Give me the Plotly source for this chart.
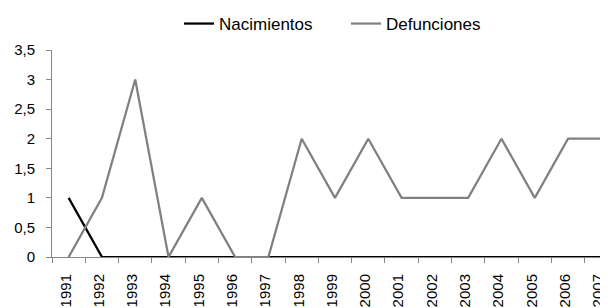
import plotly.graph_objects as go

years = [str(y) for y in range(1991, 2008)]
nacimientos = [1, 0, 0, 0, 0, 0, 0, 0, 0, 0, 0, 0, 0, 0, 0, 0, 0]
defunciones = [0, 1, 3, 0, 1, 0, 0, 2, 1, 2, 1, 1, 1, 2, 1, 2, 2]
y_ticks = [0, 0.5, 1, 1.5, 2, 2.5, 3, 3.5]

fig = go.Figure()
fig.add_trace(go.Scatter(x=years, y=nacimientos, mode="lines", name="Nacimientos",
                         line=dict(color="#000000", width=2.25)))
fig.add_trace(go.Scatter(x=years, y=defunciones, mode="lines", name="Defunciones",
                         line=dict(color="#808080", width=2.25)))

fig.update_layout(
    width=600, height=300,
    margin=dict(l=44, r=0, t=42, b=51, autoexpand=False),
    paper_bgcolor="white", plot_bgcolor="white",
    separators=",.",
    font=dict(family="Liberation Sans, Arial, sans-serif", color="#000000", size=15),
    showlegend=True,
    legend=dict(orientation="h", xref="container", yref="container",
                x=171 / 600, xanchor="left", y=1 - 16 / 300, yanchor="middle",
                entrywidth=122, font=dict(size=17), bgcolor="rgba(0,0,0,0)"),
)
fig.update_xaxes(
    type="category", range=[-0.5, 16.2], automargin=False,
    showline=True, linecolor="#868686", linewidth=1,
    ticks="outside", tickson="boundaries", ticklen=5, tickcolor="#868686",
    tickangle=-90, showgrid=False, zeroline=False,
    tickfont=dict(size=15), ticklabelstandoff=10, ticklabelshift=-3,
    layer="below traces",
)
fig.update_yaxes(
    range=[0, 3.5], tickvals=y_ticks, automargin=False,
    showline=True, linecolor="#868686", linewidth=1,
    ticks="outside", ticklen=5, tickcolor="#868686",
    showgrid=False, zeroline=False, tickfont=dict(size=15),
    ticklabelstandoff=8, layer="below traces",
)

fig.write_html("out.html")
